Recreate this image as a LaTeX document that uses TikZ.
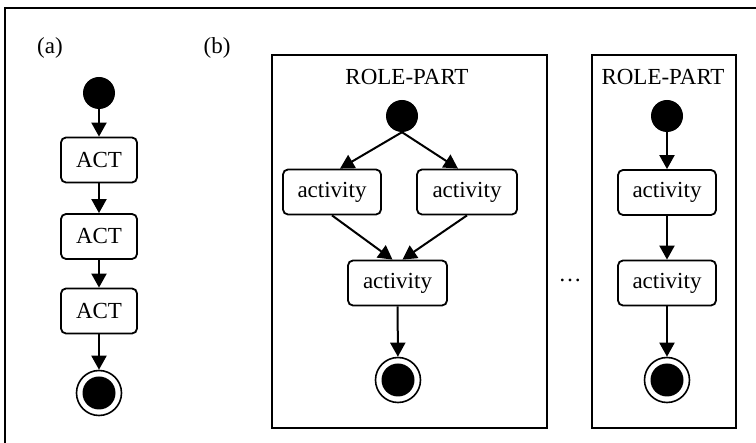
\documentclass[tikz,border=0pt]{standalone}
\usepackage{fontspec}
\setmainfont{Liberation Serif}
\usetikzlibrary{arrows.meta}
\begin{document}
\begin{tikzpicture}[x=1pt, y=-1pt,
		every node/.style = {font=\fontsize{23}{27}\selectfont},
		act/.style = {shape=rectangle, rounded corners=5pt, draw,
			line width=1.8pt, inner sep=0pt, minimum height=45pt},
		start/.style = {circle, fill, inner sep=0pt, minimum size=32pt},
		stop/.style = {circle, draw, line width=1.6pt, inner sep=0pt,
			minimum size=45pt, path picture={\fill (path picture bounding box.center) circle (16.5pt);}},
		part/.style = {draw, line width=1.8pt, inner sep=0pt},
		flow/.style = {-{Triangle[length=14pt,width=15pt]}, line width=2pt}]
		\useasboundingbox (0,0) rectangle (756,443);
		\draw[line width=2.2pt] (5,443) -- (5,8) -- (756,8);
		% (a) single sequence
		\node (la) at (50,48) {(a)};
		\node[start] (init) at (99,93) {};
		\node[act, minimum width=76pt] (act1) at (99,160) {ACT};
		\node[act, minimum width=76pt] (act2) at (99,236.5) {ACT};
		\node[act, minimum width=76pt] (act3) at (99,311) {ACT};
		\node[stop] (fin) at (99,393) {};
		\draw[flow] (init) -- (act1);
		\draw[flow] (act1) -- (act2);
		\draw[flow] (act2) -- (act3);
		\draw[flow] (act3) -- (fin);
		% (b) role parts
		\node (lb) at (217,48) {(b)};
		\node[part, minimum width=275pt, minimum height=373pt] (partA) at (409.5,241.5) {};
		\node (roleA) at (407,77) {ROLE-PART};
		\node[start] (initA) at (402,116) {};
		\node[act, minimum width=98pt] (actL) at (332,192) {activity};
		\node[act, minimum width=100pt] (actR) at (467,192) {activity};
		\node[act, minimum width=99pt] (actM) at (397.5,283) {activity};
		\node[stop] (finA) at (398,380) {};
		\draw[flow] (initA.south) -- ([xshift=8pt]actL.north);
		\draw[flow] (initA.south) -- ([xshift=-9pt]actR.north);
		\draw[flow] (actL.south) -- ([xshift=-5pt]actM.north);
		\draw[flow] (actR.south) -- ([xshift=5pt]actM.north);
		\draw[flow] (actM) -- (finA);
		\node (more) at (570,280) {\ldots};
		\node[part, minimum width=144pt, minimum height=373pt] (partB) at (664,241.5) {};
		\node (roleB) at (663,77) {ROLE-PART};
		\node[start] (initB) at (667,116) {};
		\node[act, minimum width=98pt] (actB1) at (667,192.5) {activity};
		\node[act, minimum width=98pt] (actB2) at (667,283) {activity};
		\node[stop] (finB) at (667,380) {};
		\draw[flow] (initB) -- (actB1);
		\draw[flow] (actB1) -- (actB2);
		\draw[flow] (actB2) -- (finB);
	\end{tikzpicture}
\end{document}
